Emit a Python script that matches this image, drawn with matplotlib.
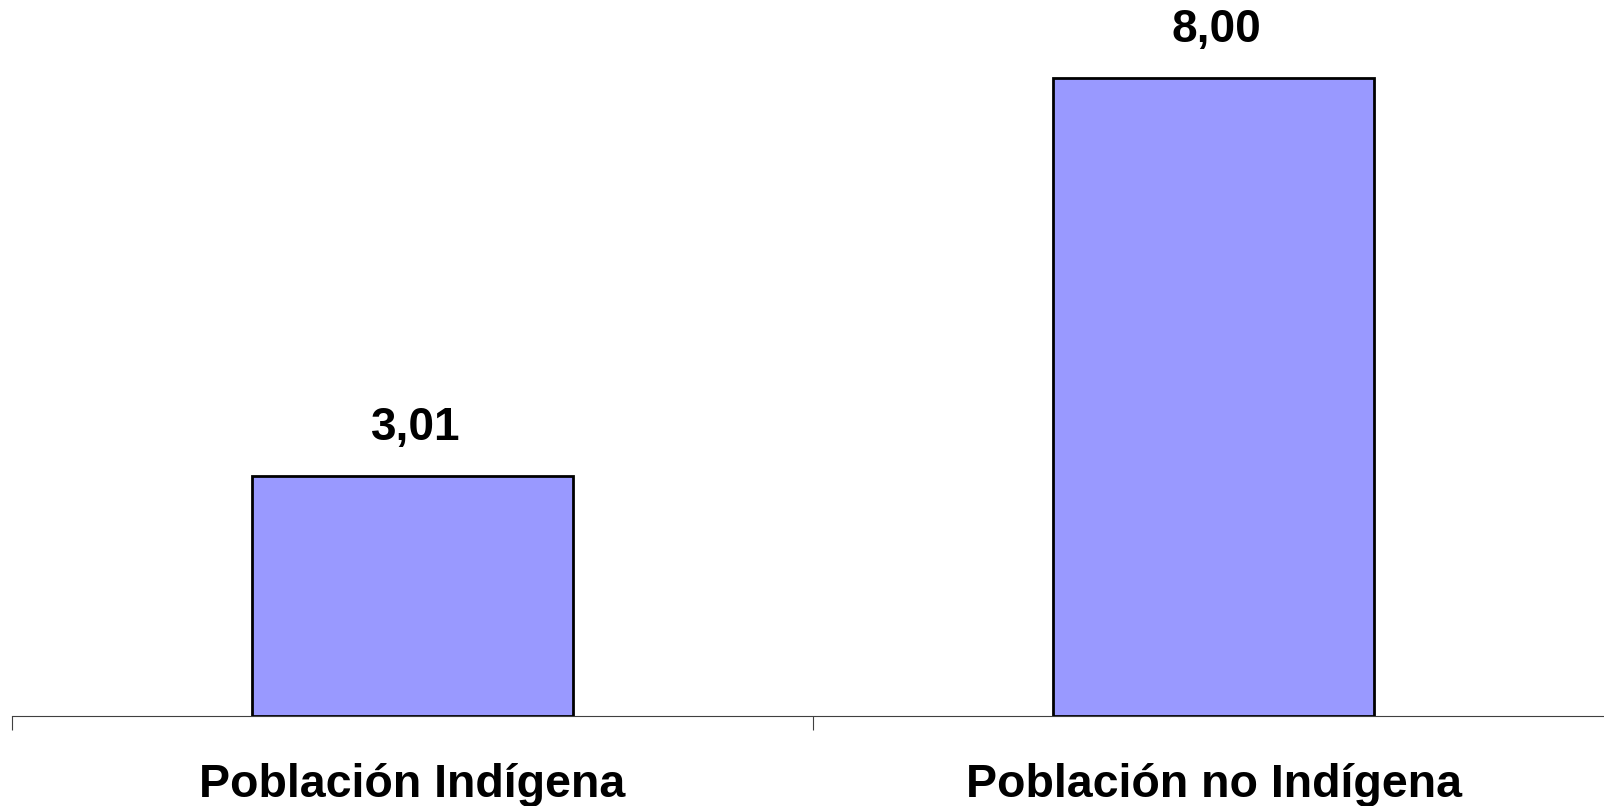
import matplotlib
matplotlib.use("Agg")
from matplotlib import pyplot as plt
import numpy as np

categorias = ['Población Indígena', 'Población no Indígena']
valores = [3.01, 8.00]
etiquetas = ['3,01', '8,00']

plt.rcParams['font.family'] = ['Liberation Sans', 'DejaVu Sans']

fig = plt.figure(figsize=(16.04, 8.06), dpi=100)
ax = fig.add_axes([12 / 1604, 90 / 806, 1602 / 1604, 9 * 79.75 / 806])

x = np.arange(len(categorias))
ax.bar(x, valores, width=0.4, color='#9999FF', edgecolor='black', linewidth=2.0, zorder=3)

for xi, v, t in zip(x, valores, etiquetas):
    ax.text(xi + 0.004, v + 0.6, t, ha='center', va='center', fontsize=33, fontweight='bold')

ax.set_xlim(-0.5, 1.5)
ax.set_ylim(0, 9)

# ticks entre categorias
ax.set_xticks([-0.5, 0.5, 1.5])
ax.set_xticklabels([])
ax.tick_params(axis='x', direction='out', length=10, width=0.8, color='#404040')
for xi, c in zip(x, categorias):
    ax.text(xi, -0.87, c, ha='center', va='center', fontsize=33.5, fontweight='bold')

ax.set_yticks([])
for s in ['top', 'right', 'left']:
    ax.spines[s].set_visible(False)
ax.spines['bottom'].set_color('#404040')
ax.spines['bottom'].set_linewidth(0.8)

fig.savefig('out.png', dpi=100)
